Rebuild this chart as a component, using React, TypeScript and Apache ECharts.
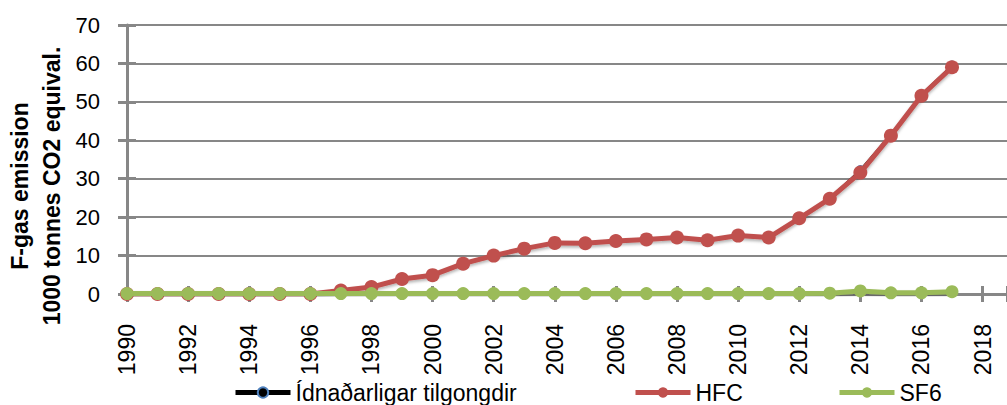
import React, { useEffect, useRef } from "react";
import * as echarts from "echarts";

const years = [1990, 1991, 1992, 1993, 1994, 1995, 1996, 1997, 1998, 1999, 2000, 2001, 2002, 2003, 2004, 2005, 2006, 2007, 2008, 2009, 2010, 2011, 2012, 2013, 2014, 2015, 2016, 2017];
const total = [0.1, 0.1, 0.1, 0.1, 0.1, 0.1, 0.1, 1.1, 1.9, 4.0, 5.0, 8.0, 10.1, 11.9, 13.4, 13.3, 13.9, 14.3, 14.8, 14.1, 15.3, 14.8, 19.8, 24.9, 32.3, 41.5, 51.9, 59.5];
const hfc = [0, 0, 0, 0, 0, 0, 0, 0.9, 1.8, 3.9, 4.9, 7.9, 10.0, 11.8, 13.3, 13.2, 13.8, 14.2, 14.7, 14.0, 15.2, 14.7, 19.7, 24.8, 31.6, 41.2, 51.6, 59.0];
const sf6 = [0.1, 0.1, 0.1, 0.1, 0.1, 0.1, 0.1, 0.1, 0.1, 0.1, 0.1, 0.1, 0.1, 0.1, 0.1, 0.1, 0.1, 0.1, 0.1, 0.1, 0.1, 0.1, 0.1, 0.2, 0.8, 0.3, 0.3, 0.6];
const seriesNames = ["Ídnaðarligar tilgongdir", "HFC", "SF6"];
const yTitle = ["F-gas emission", "1000 tonnes CO2 equival."];

const FONT = '"Liberation Sans", Arial, sans-serif';
const GRAY = "#878787";

const X_MIN = 1990;
const X_MAX = 2018.8;
const Y_MIN = 0;
const Y_MAX = 70;

const pairs = (vals: number[]) => years.map((y, i) => [y, vals[i]]);

export default function App() {
  const ref = useRef<HTMLDivElement>(null);
  useEffect(() => {
    if (!ref.current) return;
    const chart = echarts.init(ref.current, undefined, { renderer: "svg" });
    const shadow = { shadowColor: "rgba(0,0,0,0.3)", shadowBlur: 3, shadowOffsetY: 2 };
    const legendBase = {
      top: 376,
      itemWidth: 55,
      itemHeight: 13,
      itemGap: 0,
      textStyle: { fontSize: 23, color: "#000", fontFamily: FONT },
      lineStyle: { width: 5 },
    };
    const hiddenX = (gridIndex: number, ticks: boolean, len: number) => ({
      type: "value",
      gridIndex,
      min: X_MIN,
      max: X_MAX,
      interval: 2,
      axisLine: { show: false, onZero: false },
      axisTick: { show: ticks, inside: false, length: len, lineStyle: { color: GRAY, width: 3 } },
      axisLabel: { show: false },
      splitLine: { show: false },
    });
    const hiddenY = (gridIndex: number, ticks: boolean, len: number) => ({
      type: "value",
      gridIndex,
      min: Y_MIN,
      max: Y_MAX,
      interval: 10,
      axisLine: { show: false, onZero: false },
      axisTick: { show: ticks, inside: false, length: len, lineStyle: { color: GRAY, width: 3 } },
      axisLabel: { show: false },
      splitLine: { show: false },
    });
    chart.setOption({
      animation: false,
      backgroundColor: "#ffffff",
      textStyle: { fontFamily: FONT },
      grid: [
        { left: 127, right: 0, top: 25, bottom: 111, containLabel: false },
        { left: 127, right: 0, top: 25, bottom: 119, containLabel: false },
        { left: 136, right: 0, top: 25, bottom: 111, containLabel: false },
      ],
      xAxis: [
        {
          type: "value",
          gridIndex: 0,
          min: X_MIN,
          max: X_MAX,
          interval: 2,
          axisLine: { show: true, onZero: false, lineStyle: { color: GRAY, width: 3 } },
          axisTick: { show: false },
          axisLabel: {
            show: true,
            rotate: 90,
            margin: 30,
            fontSize: 23,
            color: "#000",
            fontFamily: FONT,
            showMaxLabel: false,
            formatter: (v: number) => (Number.isInteger(v) && v % 2 === 0 ? String(v) : ""),
          },
          splitLine: { show: false },
        },
        hiddenX(1, true, 16),
        hiddenX(2, false, 0),
      ],
      yAxis: [
        {
          type: "value",
          gridIndex: 0,
          min: Y_MIN,
          max: Y_MAX,
          interval: 10,
          axisLine: { show: true, onZero: false, lineStyle: { color: GRAY, width: 3 } },
          axisTick: { show: false },
          axisLabel: { fontSize: 22, color: "#000", margin: 27, fontFamily: FONT },
          splitLine: { show: true, lineStyle: { color: GRAY, width: 2 } },
        },
        hiddenY(1, false, 0),
        hiddenY(2, true, 18),
      ],
      legend: [
        { ...legendBase, data: [seriesNames[0]], left: 228 },
        { ...legendBase, data: [seriesNames[1]], left: 628 },
        { ...legendBase, data: [seriesNames[2]], left: 832 },
      ],
      graphic: [
        {
          type: "text",
          x: 36,
          y: 186,
          rotation: Math.PI / 2,
          style: {
            text: yTitle.join("\n"),
            fontSize: 23,
            fontWeight: "bold",
            fontFamily: FONT,
            fill: "#000",
            align: "center",
            verticalAlign: "middle",
            lineHeight: 32,
          },
        },
      ],
      series: [
        {
          name: seriesNames[0],
          type: "line",
          data: pairs(total),
          symbol: "circle",
          symbolSize: 8,
          showSymbol: true,
          itemStyle: { color: "#000000", borderColor: "#4F81BD", borderWidth: 1.5 },
          lineStyle: { color: "#000000", width: 2 },
          z: 2,
        },
        {
          name: seriesNames[1],
          type: "line",
          data: pairs(hfc),
          symbol: "circle",
          symbolSize: 14,
          itemStyle: { color: "#C0504D" },
          lineStyle: { color: "#C0504D", width: 5, ...shadow },
          z: 3,
        },
        {
          name: seriesNames[2],
          type: "line",
          data: pairs(sf6),
          symbol: "circle",
          symbolSize: 13,
          itemStyle: { color: "#9BBB59" },
          lineStyle: { color: "#9BBB59", width: 5, ...shadow },
          z: 4,
        },
      ],
    });
    return () => chart.dispose();
  }, []);
  return (
    <div
      ref={ref}
      style={{ position: "fixed", left: 0, top: 0, width: 1007, height: 405, background: "#fff" }}
    />
  );
}
